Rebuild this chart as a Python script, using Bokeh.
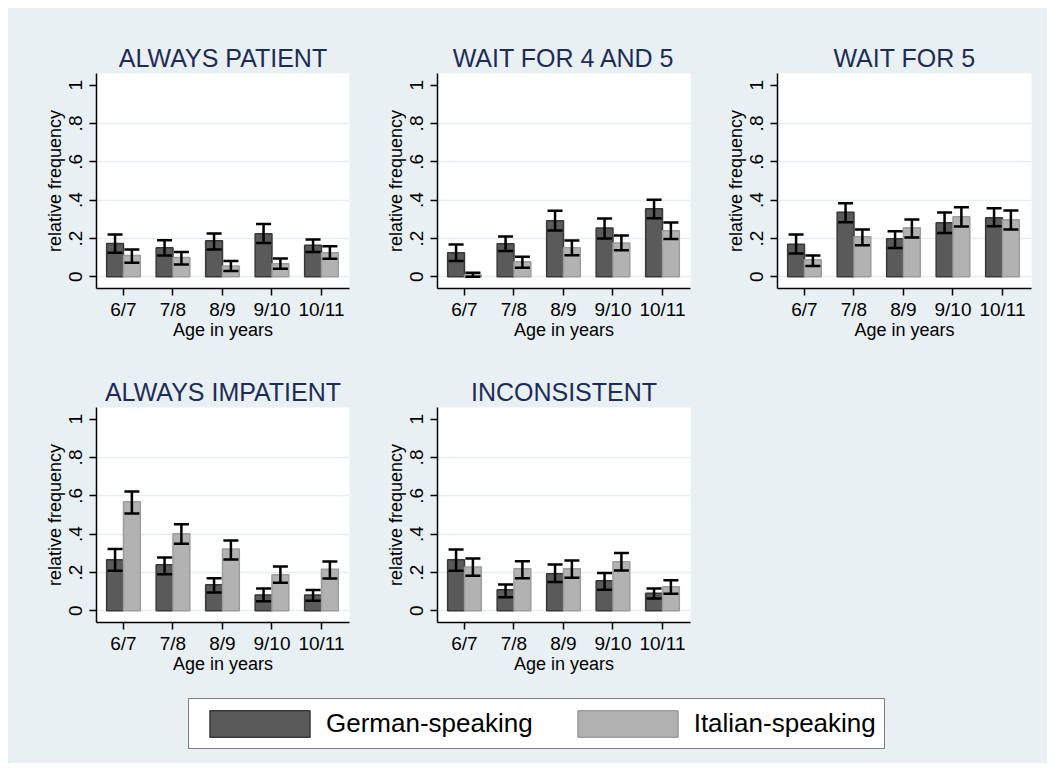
from bokeh.plotting import figure
from bokeh.models import (Range1d, FixedTicker, ColumnDataSource, Whisker, TeeHead,
                          Legend, LegendItem, Spacer)
from bokeh.layouts import column, row
from bokeh.embed import file_html
from bokeh.resources import INLINE

# ---------------- data ----------------
ages = ["6/7", "7/8", "8/9", "9/10", "10/11"]
groups = ["German-speaking", "Italian-speaking"]
panel_titles = ["ALWAYS PATIENT", "WAIT FOR 4 AND 5", "WAIT FOR 5",
                "ALWAYS IMPATIENT", "INCONSISTENT"]
y_ticks = [0, 0.2, 0.4, 0.6, 0.8, 1]
y_tick_labels = ["0", ".2", ".4", ".6", ".8", "1"]

# ALWAYS PATIENT
patient_de = [0.174, 0.151, 0.188, 0.224, 0.165]
patient_de_lo = [0.125, 0.111, 0.143, 0.177, 0.129]
patient_de_hi = [0.221, 0.191, 0.226, 0.275, 0.195]
patient_it = [0.111, 0.101, 0.057, 0.068, 0.125]
patient_it_lo = [0.073, 0.064, 0.030, 0.042, 0.094]
patient_it_hi = [0.143, 0.129, 0.082, 0.096, 0.160]

# WAIT FOR 4 AND 5
wait45_de = [0.125, 0.172, 0.292, 0.254, 0.355]
wait45_de_lo = [0.082, 0.134, 0.242, 0.200, 0.306]
wait45_de_hi = [0.169, 0.210, 0.344, 0.304, 0.402]
wait45_it = [0.010, 0.078, 0.151, 0.177, 0.240]
wait45_it_lo = [0.000, 0.047, 0.113, 0.139, 0.197]
wait45_it_hi = [0.021, 0.104, 0.190, 0.216, 0.283]

# WAIT FOR 5
wait5_de = [0.170, 0.337, 0.198, 0.282, 0.308]
wait5_de_lo = [0.122, 0.285, 0.150, 0.228, 0.264]
wait5_de_hi = [0.221, 0.384, 0.237, 0.336, 0.357]
wait5_it = [0.089, 0.209, 0.256, 0.313, 0.297]
wait5_it_lo = [0.056, 0.165, 0.205, 0.263, 0.247]
wait5_it_hi = [0.111, 0.247, 0.299, 0.363, 0.346]

# ALWAYS IMPATIENT
impatient_de = [0.266, 0.240, 0.136, 0.083, 0.083]
impatient_de_lo = [0.209, 0.191, 0.096, 0.050, 0.052]
impatient_de_hi = [0.322, 0.278, 0.170, 0.117, 0.108]
impatient_it = [0.569, 0.402, 0.322, 0.188, 0.217]
impatient_it_lo = [0.508, 0.350, 0.268, 0.146, 0.169]
impatient_it_hi = [0.623, 0.452, 0.367, 0.231, 0.257]

# INCONSISTENT
inconsistent_de = [0.266, 0.110, 0.193, 0.157, 0.092]
inconsistent_de_lo = [0.209, 0.071, 0.150, 0.110, 0.064]
inconsistent_de_hi = [0.320, 0.137, 0.242, 0.197, 0.117]
inconsistent_it = [0.228, 0.219, 0.219, 0.256, 0.125]
inconsistent_it_lo = [0.183, 0.170, 0.172, 0.210, 0.089]
inconsistent_it_hi = [0.273, 0.259, 0.263, 0.301, 0.160]

# ---------------- style ----------------
BG = "#E9F0F3"
GRID = "#E6EEF1"
FONT = "Liberation Sans"
TITLE_COLOR = "#1E2C55"
DARK, DARK_LINE = "#5A5A5A", "#383838"
LIGHT, LIGHT_LINE = "#B2B2B2", "#9C9C9C"
FH = 215
BAR_W = 0.34


def make_panel(title, de, de_lo, de_hi, it, it_lo, it_hi,
               left, right, top, bottom, fw):
    xs = list(range(1, len(ages) + 1))
    p = figure(frame_width=fw, frame_height=FH,
               x_range=Range1d(0.455, 0.455 + fw / 49.5),
               y_range=Range1d(-0.061, -0.061 + FH / 191.7),
               min_border_left=left, min_border_right=right,
               min_border_top=top, min_border_bottom=bottom,
               toolbar_location=None, output_backend="svg",
               background_fill_color="white", border_fill_color=BG,
               outline_line_color=None)
    xd = [x - BAR_W / 2 for x in xs]
    xi = [x + BAR_W / 2 for x in xs]
    p.vbar(x=xd, top=de, bottom=0, width=BAR_W, fill_color=DARK,
           line_color=DARK_LINE, line_width=1.5)
    p.vbar(x=xi, top=it, bottom=0, width=BAR_W, fill_color=LIGHT,
           line_color=LIGHT_LINE, line_width=1.5)
    for base, lo, hi in ((xd, de_lo, de_hi), (xi, it_lo, it_hi)):
        src = ColumnDataSource(dict(base=base, lower=lo, upper=hi))
        w = Whisker(base="base", lower="lower", upper="upper", source=src,
                    line_color="black", line_width=2.5, level="overlay",
                    upper_head=TeeHead(size=15, line_width=2.5, line_color="black"),
                    lower_head=TeeHead(size=15, line_width=2.5, line_color="black"))
        p.add_layout(w)

    p.title.text = title
    p.title.text_font = FONT
    p.title.text_font_size = "25px"
    p.title.text_font_style = "normal"
    p.title.text_color = TITLE_COLOR
    p.title.align = "center"
    p.title.standoff = 4

    p.xaxis.ticker = FixedTicker(ticks=xs)
    p.xaxis.major_label_overrides = dict(zip(xs, ages))
    p.xaxis.axis_label = "Age in years"
    p.yaxis.ticker = FixedTicker(ticks=y_ticks)
    p.yaxis.major_label_overrides = dict(zip(y_ticks, y_tick_labels))
    p.yaxis.major_label_orientation = "vertical"
    p.yaxis.axis_label = "relative frequency"

    for ax in (p.xaxis, p.yaxis):
        ax.axis_line_width = 1.5
        ax.axis_line_color = "black"
        ax.major_tick_out = 7
        ax.major_tick_in = 0
        ax.major_tick_line_width = 1.5
        ax.minor_tick_out = 0
        ax.minor_tick_in = 0
        ax.major_label_text_font = FONT
        ax.major_label_text_font_size = "19px"
        ax.major_label_text_color = "black"
        ax.axis_label_text_font = FONT
        ax.axis_label_text_font_size = "18px"
        ax.axis_label_text_font_style = "normal"
        ax.axis_label_text_color = "black"
    p.xaxis.major_label_standoff = 3
    p.xaxis.axis_label_standoff = -3
    p.yaxis.major_label_standoff = 7
    p.yaxis.axis_label_standoff = 2

    p.xgrid.visible = False
    p.ygrid.ticker = FixedTicker(ticks=y_ticks[:-1])
    p.ygrid.grid_line_color = GRID
    p.ygrid.grid_line_width = 1.5
    return p


f1 = make_panel(panel_titles[0], patient_de, patient_de_lo, patient_de_hi,
                patient_it, patient_it_lo, patient_it_hi, 88, 28, 65, 57, 253)
f2 = make_panel(panel_titles[1], wait45_de, wait45_de_lo, wait45_de_hi,
                wait45_it, wait45_it_lo, wait45_it_hi, 60, 25, 65, 57, 253)
f3 = make_panel(panel_titles[2], wait5_de, wait5_de_lo, wait5_de_hi,
                wait5_it, wait5_it_lo, wait5_it_hi, 62, 16, 65, 57, 254)
f4 = make_panel(panel_titles[3], impatient_de, impatient_de_lo, impatient_de_hi,
                impatient_it, impatient_it_lo, impatient_it_hi, 88, 28, 62, 58, 253)
f5 = make_panel(panel_titles[4], inconsistent_de, inconsistent_de_lo, inconsistent_de_hi,
                inconsistent_it, inconsistent_it_lo, inconsistent_it_hi, 60, 25, 62, 58, 253)
sp = Spacer(width=332, height=335, styles={"background-color": BG})

# legend strip
lf = figure(width=1039, height=83, x_range=Range1d(0, 1), y_range=Range1d(0, 1),
            toolbar_location=None, output_backend="svg", min_border=0,
            x_axis_location=None, y_axis_location=None, outline_line_color=None,
            background_fill_color=BG, border_fill_color=BG)
lf.xgrid.visible = False
lf.ygrid.visible = False
r_de = lf.vbar(x=[-5], top=[-5], width=0.1, fill_color=DARK, line_color=DARK_LINE, line_width=1.5)
r_it = lf.vbar(x=[-5], top=[-5], width=0.1, fill_color=LIGHT, line_color=LIGHT_LINE, line_width=1.5)
legend = Legend(items=[LegendItem(label=groups[0], renderers=[r_de]),
                       LegendItem(label=groups[1], renderers=[r_it])],
                orientation="horizontal", location=(180, 14),
                glyph_width=125, glyph_height=33, padding=8, spacing=32,
                label_standoff=4, margin=0,
                border_line_color="black", border_line_width=1.2,
                background_fill_color="white", background_fill_alpha=1,
                label_text_font=FONT, label_text_font_size="26px",
                label_text_color="black")
lf.add_layout(legend)

layout = column(row(f1, f2, f3), row(f4, f5, sp), lf,
                styles={"background-color": BG}, margin=(8, 0, 0, 8))

open("out.html", "w").write(file_html(layout, INLINE, title="chart"))
